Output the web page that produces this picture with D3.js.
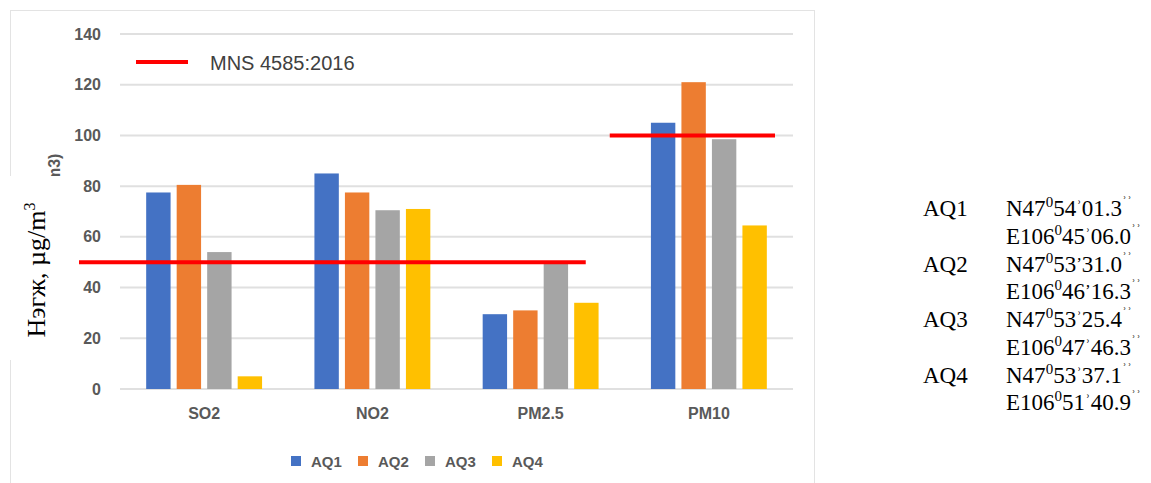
<!DOCTYPE html>
<html>
<head>
<meta charset="utf-8">
<script src="https://cdn.jsdelivr.net/npm/d3@7"></script>
<style>
  body { margin: 0; background: #fff; }
  svg { display: block; }
</style>
</head>
<body>
<svg id="chart" width="1151" height="483"></svg>
<script>
// data
const categories = ['SO2', 'NO2', 'PM2.5', 'PM10'];
const seriesNames = ['AQ1', 'AQ2', 'AQ3', 'AQ4'];
const aq1 = [77.5, 85, 29.5, 105];
const aq2 = [80.5, 77.5, 31, 121];
const aq3 = [54, 70.5, 50, 98.5];
const aq4 = [5, 71, 34, 64.5];
const colors = ['#4472C4', '#ED7D31', '#A5A5A5', '#FFC000'];
const yTicks = [0, 20, 40, 60, 80, 100, 120, 140];
const standardName = 'MNS 4585:2016';
// limit value, first and last category covered
const standardLimits = [
  { value: 50, from: 'SO2', to: 'PM2.5' },
  { value: 100, from: 'PM10', to: 'PM10' }
];
const stations = ['AQ1', 'AQ2', 'AQ3', 'AQ4'];
const latitudes = [['47', '54', '\u02BE', '01.3'], ['47', '53', '\u2019', '31.0'], ['47', '53', '\u02BE', '25.4'], ['47', '53', '\u02BE', '37.1']];
const longitudes = [['106', '45', '\u02BE', '06.0'], ['106', '46', '\u2019', '16.3'], ['106', '47', '\u02BE', '46.3'], ['106', '51', '\u02BE', '40.9']];

const values = [aq1, aq2, aq3, aq4];
const svg = d3.select('#chart');
const sans = "'Liberation Sans', Arial, sans-serif";
const serif = "'Liberation Serif', 'Times New Roman', serif";

// chart frame
svg.append('rect')
  .attr('x', 10.5).attr('y', 10.5)
  .attr('width', 804).attr('height', 480)
  .attr('fill', 'none').attr('stroke', '#E3E3E3');

const x0 = d3.scaleBand().domain(categories).range([120, 793]);
const x1 = d3.scaleBand().domain(seriesNames)
  .range([x0.bandwidth() / 2 - 61, x0.bandwidth() / 2 + 61])
  .paddingInner(0.2).paddingOuter(0.1);
const y = d3.scaleLinear().domain([0, 140]).range([389, 34]);

// gridlines
svg.append('g').selectAll('line')
  .data(yTicks)
  .enter()
  .append('line')
  .attr('x1', 120).attr('x2', 793)
  .attr('y1', d => y(d)).attr('y2', d => y(d))
  .attr('stroke', '#E0E0E0').attr('stroke-width', 2);

// y axis labels
const yAxis = svg.append('g')
  .attr('transform', 'translate(120,0)')
  .call(d3.axisLeft(y).tickValues(yTicks).tickSize(0).tickPadding(19));
yAxis.select('.domain').remove();
yAxis.selectAll('text')
  .attr('font-family', sans).attr('font-size', 16).attr('font-weight', 'bold')
  .attr('fill', '#595959');

// x axis labels
const xAxis = svg.append('g')
  .attr('transform', 'translate(0,389)')
  .call(d3.axisBottom(x0).tickSize(0).tickPadding(19));
xAxis.select('.domain').remove();
xAxis.selectAll('text')
  .attr('font-family', sans).attr('font-size', 16).attr('font-weight', 'bold')
  .attr('fill', '#595959');

// bars
const groups = svg.append('g').selectAll('g')
  .data(categories)
  .enter()
  .append('g')
  .attr('transform', d => 'translate(' + x0(d) + ',0)');

groups.selectAll('rect')
  .data((d, ci) => seriesNames.map((s, si) => ({ s: s, v: values[si][ci], c: colors[si] })))
  .enter()
  .append('rect')
  .attr('x', d => x1(d.s))
  .attr('y', d => y(d.v))
  .attr('width', x1.bandwidth())
  .attr('height', d => y(0) - y(d.v))
  .attr('fill', d => d.c);

// old axis title remnant, partly hidden
svg.append('text')
  .attr('transform', 'translate(60,182) rotate(-90)')
  .attr('font-family', sans).attr('font-size', 16).attr('font-weight', 'bold')
  .attr('fill', '#595959')
  .text('m3)');

// white patch under the new axis title
svg.append('rect')
  .attr('x', 0).attr('y', 176)
  .attr('width', 76).attr('height', 184)
  .attr('fill', '#fff');

const yTitle = svg.append('text')
  .attr('transform', 'translate(45,270) rotate(-90)')
  .attr('text-anchor', 'middle')
  .attr('font-family', serif).attr('font-size', 26)
  .attr('fill', '#000');
yTitle.append('tspan').text('Нэгж, µg/m');
yTitle.append('tspan').attr('dy', -10).attr('font-size', 16).text('3');

// standard limit lines
svg.append('g').selectAll('line')
  .data(standardLimits)
  .enter()
  .append('line')
  .attr('x1', d => x0(d.from) + (d.from === 'SO2' ? -41 : -15))
  .attr('x2', d => x0(d.to) + x0.bandwidth() + (d.to === 'PM10' ? -18 : -39))
  .attr('y1', d => y(d.value)).attr('y2', d => y(d.value))
  .attr('stroke', '#FF0000').attr('stroke-width', 4);

// standard legend
svg.append('line')
  .attr('x1', 136).attr('x2', 188)
  .attr('y1', 62).attr('y2', 62)
  .attr('stroke', '#FF0000').attr('stroke-width', 4);
svg.append('text')
  .attr('x', 210).attr('y', 70)
  .attr('font-family', sans).attr('font-size', 20)
  .attr('fill', '#404040')
  .text(standardName);

// series legend
const legendItems = svg.append('g').selectAll('g')
  .data(seriesNames)
  .enter()
  .append('g')
  .attr('transform', (d, i) => 'translate(' + (291 + i * 67) + ',456)');

legendItems.append('rect')
  .attr('width', 10).attr('height', 10)
  .attr('fill', (d, i) => colors[i]);

legendItems.append('text')
  .attr('x', 20).attr('y', 11)
  .attr('font-family', sans).attr('font-size', 15).attr('font-weight', 'bold')
  .attr('fill', '#595959')
  .text(d => d);

// station coordinates
function coordText(sel, prefix, parts) {
  sel.append('tspan').text(prefix + parts[0]);
  sel.append('tspan').attr('dy', -9).attr('font-size', 15).text('0');
  sel.append('tspan').attr('dy', 9).text(parts[1]);
  sel.append('tspan').attr('font-size', 17).attr('dy', -3).text(parts[2]);
  sel.append('tspan').attr('dy', 3).text(parts[3]);
  sel.append('tspan').attr('dy', -9).attr('font-size', 15).text('\u02BE\u02BE');
}

const stationRows = svg.append('g').selectAll('g')
  .data(stations)
  .enter()
  .append('g')
  .attr('transform', (d, i) => 'translate(0,' + (216 + i * 55.5) + ')')
  .attr('font-family', serif).attr('font-size', 23).attr('fill', '#000');

stationRows.append('text')
  .attr('x', 923)
  .text(d => d);

stationRows.each(function (d, i) {
  const g = d3.select(this);
  coordText(g.append('text').attr('x', 1006), 'N', latitudes[i]);
  coordText(g.append('text').attr('x', 1006).attr('y', 27.5), 'E', longitudes[i]);
});
</script>
</body>
</html>
